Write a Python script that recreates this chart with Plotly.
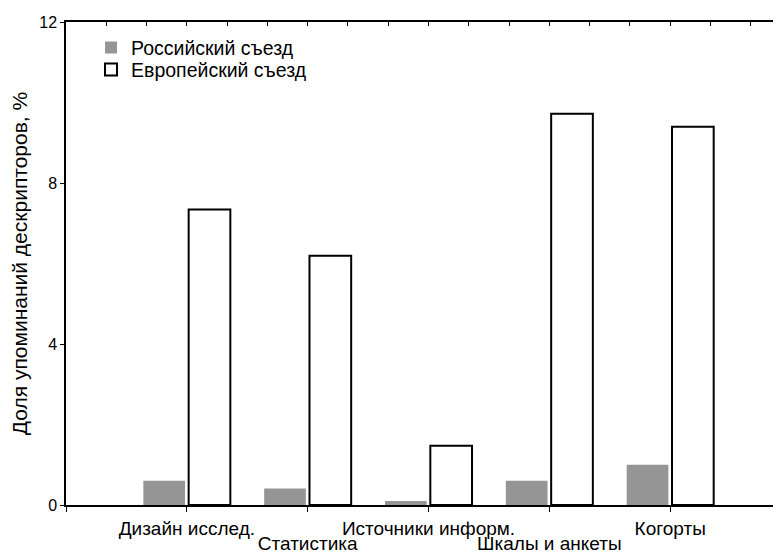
import plotly.graph_objects as go

categories = ["Дизайн исслед.", "Статистика", "Источники информ.", "Шкалы и анкеты", "Когорты"]
russian = [0.60, 0.41, 0.10, 0.60, 1.00]
european = [7.34, 6.19, 1.47, 9.72, 9.40]
series_names = ["Российский съезд", "Европейский съезд"]
y_ticks = [0, 4, 8, 12]
y_title = "Доля упоминаний дескрипторов, %"

FONT = "Liberation Sans, Arial, sans-serif"
FS = 19.5
FS_CAT = 19
FS_NUM = 16
x = list(range(len(categories)))
x_range = [-1, 4.917]

fig = go.Figure()
fig.add_bar(x=x, y=russian, name=series_names[0], legend="legend",
            marker=dict(color="#959595", line=dict(width=0)))
fig.add_bar(x=x, y=european, name=series_names[1], legend="legend2",
            marker=dict(color="white", line=dict(color="black", width=2)))

first_row = [c if i % 2 == 0 else "" for i, c in enumerate(categories)]
second_idx = [i for i in x if i % 2 == 1]
second_row = [categories[i] for i in second_idx]

# helper (empty) traces so the overlay axes get drawn
fig.add_scatter(x=[None], y=[None], xaxis="x2", showlegend=False, hoverinfo="skip")
fig.add_scatter(x=[None], y=[None], xaxis="x3", showlegend=False, hoverinfo="skip")

leg_common = dict(x=0.035, xanchor="left", yanchor="top",
                  bgcolor="rgba(0,0,0,0)", borderwidth=0,
                  font=dict(family=FONT, size=FS), tracegroupgap=0)

fig.update_layout(
    width=773, height=548,
    margin=dict(l=58, r=0, t=14, b=51, autoexpand=False),
    paper_bgcolor="white", plot_bgcolor="white",
    font=dict(family=FONT, size=FS, color="black"),
    barmode="group", bargap=0.25, bargroupgap=0.08,
    showlegend=True,
    legend=dict(y=0.987, **leg_common),
    legend2=dict(y=0.9415, **leg_common),
    xaxis=dict(type="linear", range=x_range, automargin=False,
               tickvals=[-1] + x, ticktext=[""] + first_row,
               ticks="outside", ticklen=5, tickwidth=1, tickcolor="black",
               showline=True, linecolor="black", linewidth=1.5,
               showgrid=False, zeroline=False, ticklabelstandoff=0,
               tickfont=dict(family=FONT, size=FS_CAT)),
    xaxis2=dict(overlaying="x", side="top", anchor="y", type="linear",
                range=x_range, tick0=-1, dtick=1/3, automargin=False,
                ticks="inside", ticklen=4, tickwidth=1, tickcolor="black",
                showticklabels=False, showline=True, linecolor="black",
                linewidth=1.5, showgrid=False, zeroline=False),
    xaxis3=dict(overlaying="x", side="bottom", anchor="y", type="linear",
                range=x_range, tickvals=second_idx, ticktext=second_row,
                automargin=False,
                ticks="", showline=False, showgrid=False, zeroline=False,
                ticklabelstandoff=25,
                tickfont=dict(family=FONT, size=FS_CAT)),
    yaxis=dict(range=[0, 12], tickvals=y_ticks, automargin=False,
               ticks="outside", ticklen=4, tickwidth=1, tickcolor="black",
               showline=True, linecolor="black", linewidth=1.5,
               showgrid=False, zeroline=False,
               tickfont=dict(family=FONT, size=FS_NUM),
               title=dict(text=y_title, standoff=9,
                          font=dict(family=FONT, size=21))),
)

fig.write_html("out.html")
